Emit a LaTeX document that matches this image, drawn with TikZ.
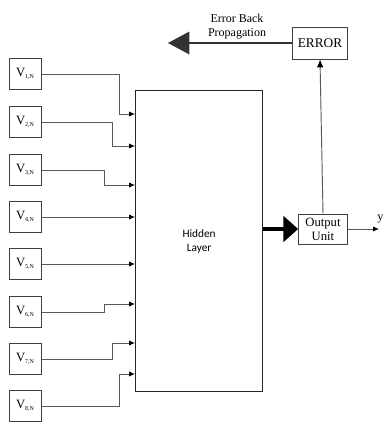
\documentclass[tikz,border=0pt]{standalone}
\usepackage{fontspec}
\setmainfont{Liberation Serif}
\newfontfamily\calib{Carlito}
\usetikzlibrary{arrows.meta}
\begin{document}
\begin{tikzpicture}[x=0.75pt,y=-0.75pt,
  inbox/.style={draw=black!75,line width=0.6pt,minimum width=32*0.75pt,minimum height=31*0.75pt,inner sep=0pt,font=\fontsize{9.5}{10}\selectfont},
  conn/.style={draw=black!65,line width=0.7pt,-{Latex[length=4.5pt,width=4pt,color=black]}},
  tbox/.style={draw=black!75,line width=0.6pt,inner sep=0pt,align=center,font=\fontsize{9.5}{10.5}\selectfont}]
\useasboundingbox (0,0) rectangle (384,422);
\node[draw=black!85,line width=0.9pt,minimum width=127*0.75pt,minimum height=301*0.75pt,inner sep=0pt,anchor=north west,font=\calib\fontsize{8.5}{10.5}\selectfont,align=center] (hid) at (135,90) {Hidden\\Layer};
\foreach \i/\y in {1/74,2/122,3/170,4/217,5/264,6/312,7/359,8/406}{
  \node[inbox] (v\i) at (25,\y) {V\raisebox{-0.3ex}{\fontsize{4.5}{4.5}\selectfont\i,N}};
}
\coordinate (a1) at (135,114);
\coordinate (a2) at (135,146);
\coordinate (a3) at (135,185);
\coordinate (a4) at (135,217);
\coordinate (a5) at (135,264);
\coordinate (a6) at (135,304);
\coordinate (a7) at (135,343);
\coordinate (a8) at (135,374);
\draw[conn] (v1.east) -| (119,114) -- (a1);
\draw[conn] (v2.east) -| (112,146) -- (a2);
\draw[conn] (v3.east) -| (104,185) -- (a3);
\draw[conn] (v4.east) -- (a4);
\draw[conn] (v5.east) -- (a5);
\draw[conn] (v6.east) -| (104,304) -- (a6);
\draw[conn] (v7.east) -| (112,343) -- (a7);
\draw[conn] (v8.east) -| (119,374) -- (a8);
\node[tbox,minimum width=49*0.75pt,minimum height=30*0.75pt] (out) at (323,229) {Output\\Unit};
\node[tbox,minimum width=55*0.75pt,minimum height=32*0.75pt,font=\fontsize{10}{11}\selectfont] (err) at (320,43) {ERROR};
\draw[line width=3pt,-{Triangle[length=11pt,width=19pt]}] (hid.east|-out.west) -- (out.west);
\draw[draw=black!65,line width=0.7pt,-{Latex[length=6pt,width=5pt,color=black]}] (out.north) -- (err.south);
\coordinate (yend) at (379,229);
\draw[draw=black!65,line width=0.7pt,-{Latex[length=4.5pt,width=4pt,color=black]}] (out.east) -- (yend);
\node[font=\fontsize{9}{10}\selectfont,anchor=south west,inner sep=0pt] (ylab) at (377,223) {y};
\coordinate (bend) at (168,43);
\draw[draw=black!80,line width=0.9pt,-{Triangle[length=16pt,width=17pt]}] (err.west) -- (bend);
\node[font=\fontsize{9}{10.5}\selectfont,align=center,inner sep=0pt] (lab) at (237,27) {Error Back\\Propagation};
\end{tikzpicture}
\end{document}
